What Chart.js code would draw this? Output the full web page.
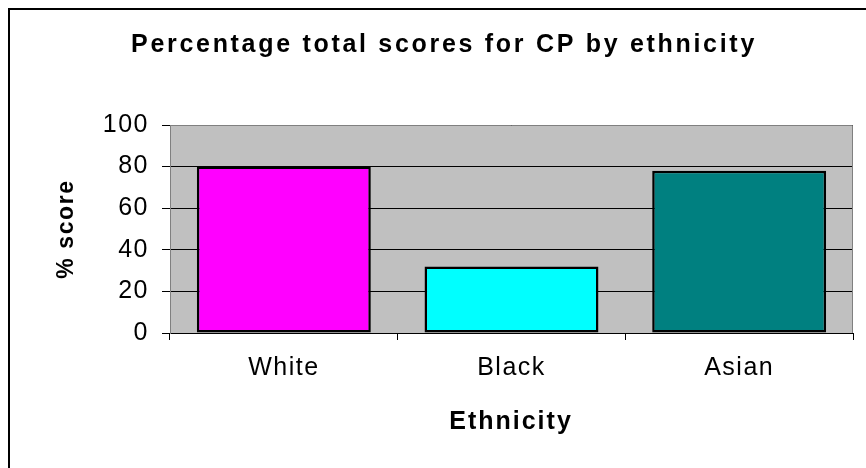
<!DOCTYPE html>
<html>
<head>
<meta charset="utf-8">
<script src="https://cdn.jsdelivr.net/npm/chart.js@4.4.1/dist/chart.umd.min.js"></script>
<style>
    html, body { margin: 0; padding: 0; background: #fff; }
    #wrap { width: 866px; height: 468px; }
</style>
</head>
<body>
<div id="wrap"><canvas id="scoreChart" width="866" height="468"></canvas></div>
<script>
// CP scores by ethnicity
const groups = ['White', 'Black', 'Asian'];
const scores = [80, 32, 78];
const barColors = ['#FF00FF', '#00FFFF', '#008080'];
const yTicks = [0, 20, 40, 60, 80, 100];

const FONT = '"Liberation Sans", Arial, sans-serif';

// grey plot area, outer frame and the titles (drawn with wider letter spacing)
const frame = {
    id: 'frame',
    beforeDraw(chart) {
        const { ctx, chartArea: a } = chart;
        ctx.save();
        ctx.fillStyle = '#C0C0C0';
        ctx.fillRect(a.left, a.top, a.right - a.left, a.bottom - a.top);
        ctx.fillStyle = '#000';
        ctx.fillRect(8, 8, chart.width, 2);
        ctx.fillRect(8, 8, 2, chart.height);
        ctx.restore();
        // tick labels get a bit of tracking too
        ctx.letterSpacing = '1.5px';
    },
    afterDraw(chart) {
        const { ctx, chartArea: a } = chart;
        ctx.save();
        ctx.strokeStyle = '#808080';
        ctx.lineWidth = 1;
        ctx.beginPath();
        ctx.moveTo(a.left, a.top + 0.5);
        ctx.lineTo(a.right - 0.5, a.top + 0.5);
        ctx.lineTo(a.right - 0.5, a.bottom);
        ctx.stroke();

        ctx.fillStyle = '#000';
        ctx.textBaseline = 'alphabetic';
        ctx.textAlign = 'center';
        ctx.letterSpacing = '2.7px';
        ctx.font = 'bold 25px ' + FONT;
        ctx.fillText('Percentage total scores for CP by ethnicity', 444, 52);

        ctx.letterSpacing = '2px';
        ctx.font = 'bold 25px ' + FONT;
        ctx.fillText('Ethnicity', 511, 429);

        ctx.translate(73, 229);
        ctx.rotate(-Math.PI / 2);
        ctx.letterSpacing = '1.6px';
        ctx.font = 'bold 23px ' + FONT;
        ctx.fillText('% score', 0, 0);
        ctx.restore();
    }
};

new Chart(document.getElementById('scoreChart'), {
    type: 'bar',
    data: {
        labels: groups,
        datasets: [{
            data: scores,
            backgroundColor: barColors,
            borderColor: '#000',
            borderWidth: 2.5,
            borderSkipped: false,
            categoryPercentage: 1,
            barPercentage: 0.764
        }]
    },
    options: {
        responsive: false,
        animation: false,
        devicePixelRatio: 1,
        layout: { padding: { left: 0, top: 125, right: 13, bottom: 0 } },
        plugins: {
            legend: { display: false },
            tooltip: { enabled: false }
        },
        scales: {
            x: {
                afterFit: scale => { scale.height = 135; },
                border: { color: '#000', width: 1 },
                grid: {
                    offset: true,
                    drawOnChartArea: false,
                    tickLength: 7,
                    tickColor: '#000'
                },
                ticks: {
                    color: '#000',
                    padding: 13,
                    font: { family: FONT, size: 25 }
                }
            },
            y: {
                min: 0,
                max: 100,
                afterFit: scale => { scale.width = 170; },
                afterBuildTicks: scale => { scale.ticks = yTicks.map(v => ({ value: v })); },
                border: { color: '#808080', width: 1 },
                grid: {
                    color: '#000',
                    lineWidth: 1,
                    tickLength: 8,
                    tickColor: '#000'
                },
                ticks: {
                    color: '#000',
                    padding: 13,
                    font: { family: FONT, size: 25 }
                }
            }
        }
    },
    plugins: [frame]
});
</script>
</body>
</html>
